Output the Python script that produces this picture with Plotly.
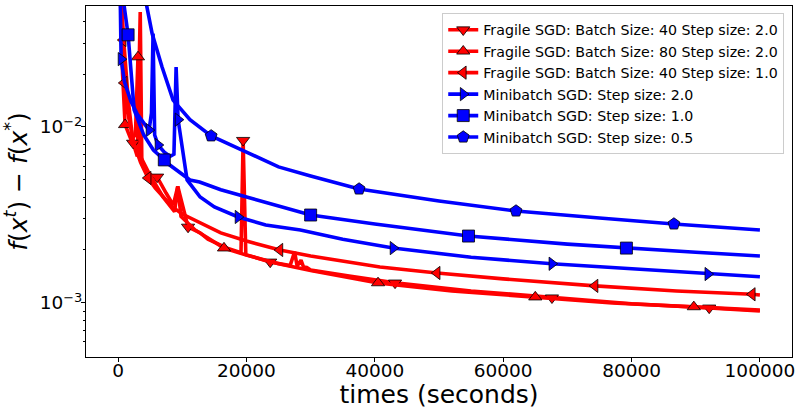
import math
import plotly.graph_objects as go

# ---------------- data ----------------
# Fragile SGD: Batch Size 40, Step size 2.0
t_f40_s2 = [150, 900, 1600, 2340, 3000, 3450, 3700, 4300, 5200, 6080, 7500, 8600, 9300,
            10900, 12800, 14000, 17000, 19150, 19480, 19900, 23700, 26800, 27500, 27900,
            28500, 28900, 29400, 30000, 36000, 43150, 55000, 67600, 80000, 92100, 100000]
v_f40_s2 = [0.09, 0.03, 0.014, 8.1e-3, 6.8e-3, 0.045, 6.2e-3, 5.6e-3, 5.3e-3, 5.2e-3, 4.2e-3,
            3.6e-3, 4.6e-3, 2.7e-3, 2.5e-3, 2.3e-3, 2.05e-3, 1.93e-3, 8.4e-3, 1.88e-3, 1.71e-3,
            1.63e-3, 1.95e-3, 1.62e-3, 1.75e-3, 1.6e-3, 1.59e-3, 1.54e-3, 1.42e-3, 1.30e-3,
            1.17e-3, 1.07e-3, 9.9e-4, 9.37e-4, 9.0e-4]
mk_f40_s2 = [3, 9, 13, 18, 20, 29, 31, 33]

# Fragile SGD: Batch Size 80, Step size 2.0
t_f80_s2 = [200, 700, 1090, 2000, 2700, 3100, 3500, 5000, 7000, 8800, 9300, 9800, 12000,
            16500, 20000, 25000, 30000, 40500, 52000, 65000, 77000, 89700, 100000]
v_f80_s2 = [0.09, 0.02, 0.0103, 8.5e-3, 9e-3, 0.025, 6.8e-3, 5.3e-3, 4.0e-3, 3.3e-3, 4.6e-3,
            3.1e-3, 2.6e-3, 2.05e-3, 1.87e-3, 1.67e-3, 1.53e-3, 1.30e-3, 1.17e-3, 1.08e-3,
            1.0e-3, 9.5e-4, 9.1e-4]
mk_f80_s2 = [2, 5, 13, 17, 19, 21]

# Fragile SGD: Batch Size 40, Step size 1.0
t_f40_s1 = [200, 780, 935, 1500, 2500, 3500, 4670, 5800, 7000, 8500, 10000, 12800, 16000,
            20000, 25200, 30000, 40800, 49700, 60000, 74300, 87000, 98800, 100000]
v_f40_s1 = [0.1, 0.0312, 0.0178, 0.012, 8.0e-3, 6.3e-3, 5.13e-3, 4.5e-3, 4.0e-3, 3.5e-3,
            3.2e-3, 2.85e-3, 2.5e-3, 2.25e-3, 2.0e-3, 1.85e-3, 1.6e-3, 1.48e-3, 1.37e-3,
            1.25e-3, 1.17e-3, 1.12e-3, 1.11e-3]
mk_f40_s1 = [1, 2, 6, 14, 17, 19, 21]

# Minibatch SGD: Step size 2.0
t_mb_s2 = [250, 470, 1000, 2000, 3000, 4000, 4830, 5200, 5450, 5700, 6230, 7200, 8100, 8700,
           9040, 9350, 9970, 10750, 12780, 15000, 18700, 23000, 28400, 35000, 42850, 55000,
           67600, 80000, 91900, 100000]
v_mb_s2 = [0.09, 0.0243, 0.018, 0.014, 0.0118, 0.0105, 9.6e-3, 0.012, 0.034, 9.0e-3, 7.9e-3,
           7.2e-3, 6.8e-3, 7.0e-3, 0.0219, 0.011, 7.7e-3, 5.0e-3, 4.0e-3, 3.51e-3, 3.08e-3,
           2.77e-3, 2.6e-3, 2.3e-3, 2.05e-3, 1.82e-3, 1.67e-3, 1.56e-3, 1.46e-3, 1.41e-3]
mk_mb_s2 = [1, 6, 10, 15, 20, 24, 26, 28]

# Minibatch SGD: Step size 1.0
t_mb_s1 = [300, 900, 1560, 2500, 4000, 5500, 7200, 8000, 11200, 12700, 16000, 20000, 25000,
           30000, 40000, 54600, 70000, 79200, 90000, 100000]
v_mb_s1 = [0.09, 0.05, 0.0334, 0.0125, 9.0e-3, 7.4e-3, 6.5e-3, 6.1e-3, 5.0e-3, 4.87e-3,
           4.4e-3, 4.0e-3, 3.55e-3, 3.16e-3, 2.81e-3, 2.4e-3, 2.16e-3, 2.05e-3, 1.94e-3, 1.85e-3]
mk_mb_s1 = [2, 6, 13, 15, 17]

# Minibatch SGD: Step size 0.5
t_mb_s05 = [3300, 5300, 6850, 8570, 11200, 14500, 20000, 25000, 30000, 37550, 50000, 62000,
            75000, 86600, 100000]
v_mb_s05 = [0.08, 0.034, 0.0219, 0.0142, 0.0110, 8.9e-3, 7.2e-3, 5.93e-3, 5.27e-3, 4.44e-3,
            3.8e-3, 3.33e-3, 3.04e-3, 2.81e-3, 2.6e-3]
mk_mb_s05 = [5, 9, 11, 13]

names = ["Fragile SGD: Batch Size: 40 Step size: 2.0",
         "Fragile SGD: Batch Size: 80 Step size: 2.0",
         "Fragile SGD: Batch Size: 40 Step size: 1.0",
         "Minibatch SGD: Step size: 2.0",
         "Minibatch SGD: Step size: 1.0",
         "Minibatch SGD: Step size: 0.5"]

x_ticks = [0, 20000, 40000, 60000, 80000, 100000]
x_ticklabels = ["0", "20000", "40000", "60000", "80000", "100000"]
y_ticks = [1e-3, 1e-2]
y_ticklabels = ["10<sup>\u22123</sup>", "10<sup>\u22122</sup>"]
y_minor = [6e-4, 7e-4, 8e-4, 9e-4, 2e-3, 3e-3, 4e-3, 5e-3, 6e-3, 7e-3, 8e-3, 9e-3,
           2e-2, 3e-2, 4e-2]

# ---------------- styling ----------------
RED = "#ff0000"
BLUE = "#0000ff"
series = [
    (t_f40_s2, v_f40_s2, mk_f40_s2, RED, "triangle-down", 11.5),
    (t_f80_s2, v_f80_s2, mk_f80_s2, RED, "triangle-up", 11.5),
    (t_f40_s1, v_f40_s1, mk_f40_s1, RED, "triangle-left", 11.5),
    (t_mb_s2, v_mb_s2, mk_mb_s2, BLUE, "triangle-right", 11.5),
    (t_mb_s1, v_mb_s1, mk_mb_s1, BLUE, "square", 12),
    (t_mb_s05, v_mb_s05, mk_mb_s05, BLUE, "pentagon", 12.5),
]
LW = 3.6

fig = go.Figure()
for name, (t, v, mk, col, sym, ms) in zip(names, series):
    fig.add_trace(go.Scatter(x=t, y=v, mode="lines", line=dict(color=col, width=LW),
                             showlegend=False, hoverinfo="skip"))
    fig.add_trace(go.Scatter(x=[t[i] for i in mk], y=[v[i] for i in mk], mode="markers",
                             marker=dict(symbol=sym, size=ms, color=col,
                                         line=dict(color="black", width=0.8)),
                             showlegend=False, hoverinfo="skip"))
# legend entries
for name, (t, v, mk, col, sym, ms) in zip(names, series):
    fig.add_trace(go.Scatter(x=[None], y=[None], mode="lines+markers", name=name,
                             line=dict(color=col, width=LW),
                             marker=dict(symbol=sym, size=ms, color=col,
                                         line=dict(color="black", width=0.8))))

fig.update_layout(
    template="none",
    width=800, height=409,
    margin=dict(l=86, r=8, t=6, b=52, pad=0),
    paper_bgcolor="white", plot_bgcolor="white",
    font=dict(family="DejaVu Sans", color="black"),
    legend=dict(x=0.989, y=0.98, xanchor="right", yanchor="top",
                bgcolor="rgba(255,255,255,0.85)", bordercolor="#cccccc", borderwidth=1,
                font=dict(size=14.2, family="DejaVu Sans"), itemwidth=30),
)
fig.update_xaxes(
    automargin=False,
    range=[-5000, 105000], tickvals=x_ticks, ticktext=x_ticklabels,
    showline=True, mirror=True, linecolor="black", linewidth=1,
    ticks="outside", ticklen=4, tickcolor="black", showgrid=False, zeroline=False,
    tickfont=dict(size=18.5), ticklabelstandoff=-7,
    title=dict(text="times (seconds)", font=dict(size=25), standoff=4),
)
fig.update_yaxes(
    automargin=False,
    type="log", range=[math.log10(4.93e-4), math.log10(4.87e-2)],
    tickvals=y_ticks, ticktext=y_ticklabels,
    showline=True, mirror=True, linecolor="black", linewidth=1,
    ticks="outside", ticklen=4, tickcolor="black", showgrid=False, zeroline=False,
    tickfont=dict(size=18.5), ticklabelstandoff=-5,
    minor=dict(tickvals=y_minor, ticks="outside", ticklen=2, tickcolor="black", showgrid=False),
    title=dict(text="<i>f</i>(<i>x</i><sup><i>t</i></sup>) \u2212 <i>f</i>(<i>x</i><sup>*</sup>)",
               font=dict(size=25), standoff=9),
)

fig.write_html("out.html", config={"displayModeBar": False},
               post_script="document.body.style.margin='0';document.body.style.padding='0';")
